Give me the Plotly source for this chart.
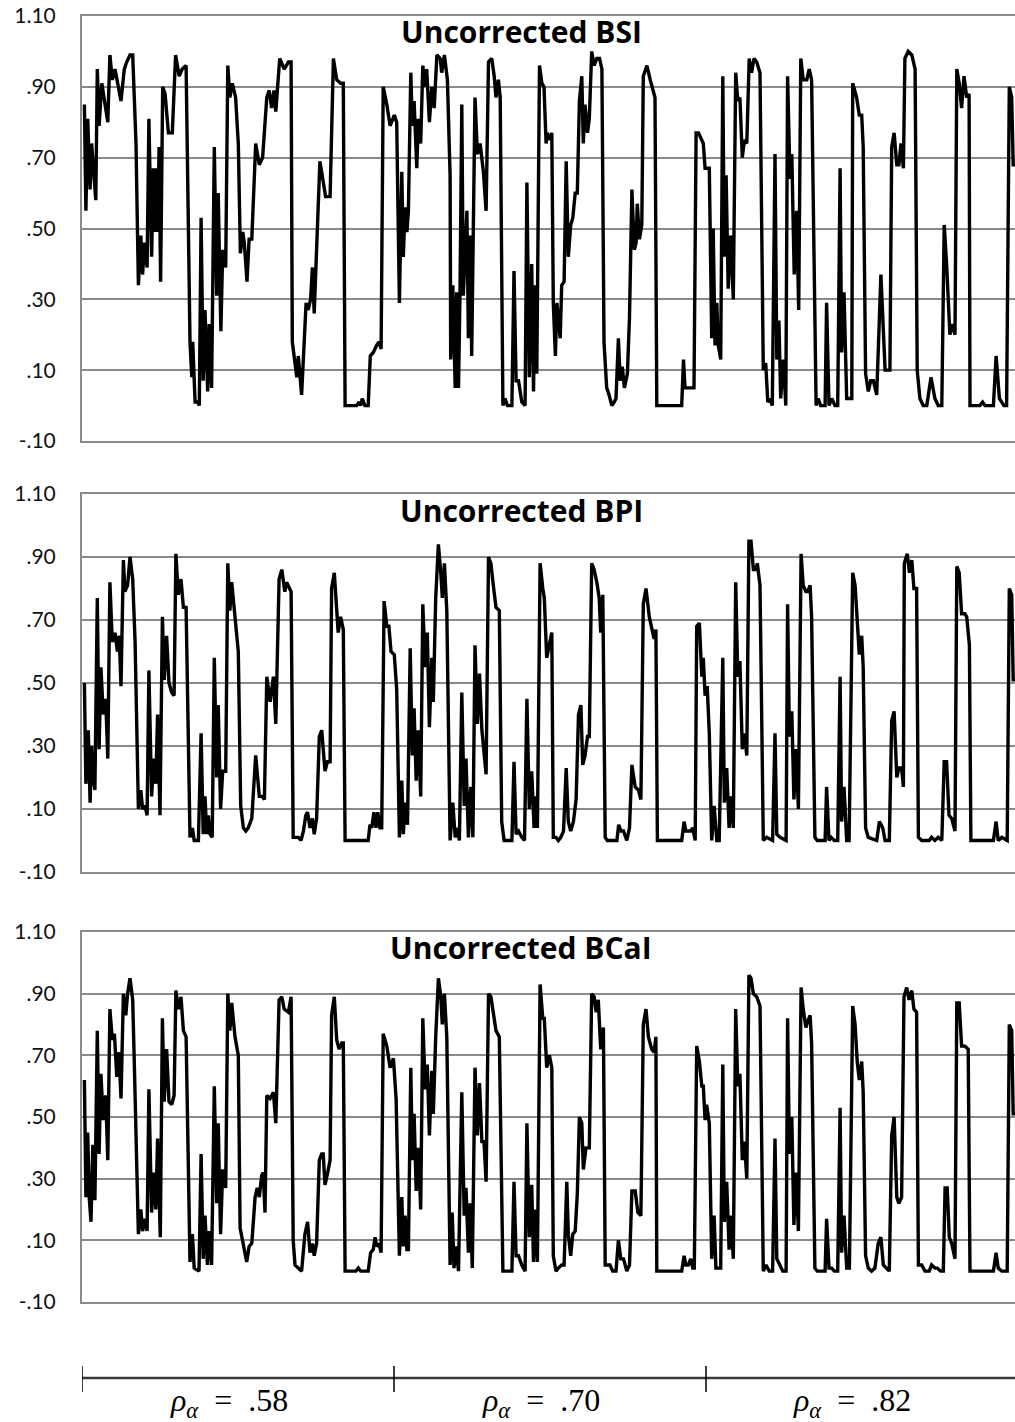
import plotly.graph_objects as go

# ---- data: (condition index, coverage) ----
bsi_points = [
 (0.8,.85),(1.3,.55),(1.9,.81),(2.7,.61),(3.2,.74),(4.6,.58),(5.1,.95),(5.7,.79),(6.6,.91),(7.4,.87),(8.6,.80),(9.3,.99),(10.1,.92),(11,.95),(12.1,.90),(13,.86),(14.1,.95),(14.9,.97),(16,.99),(16.9,.99),
 (18,.74),(18.8,.34),(19.6,.48),(20.2,.37),(20.8,.46),(21.7,.39),(22.3,.81),(23.2,.42),(23.8,.67),(24.3,.49),(24.7,.67),(25.2,.49),(25.7,.73),(26.2,.35),(26.9,.90),(27.7,.88),(28.8,.77),(30.1,.77),(31.2,.99),(32.4,.93),(33.4,.95),(34.7,.96),
 (36,.18),(36.6,.08),(36.9,.18),(37.7,.01),(38.6,.01),(39.1,.00),(39.7,.53),(40.4,.07),(41,.27),(41.9,.04),(42.4,.23),(43.2,.05),(44.1,.73),(44.9,.31),(45.4,.60),(46.3,.21),(46.9,.44),(47.9,.39),(48.6,.96),(49.3,.87),(50.1,.91),(51.2,.87),(52.1,.74),
 (52.8,.43),(53.6,.49),(54.1,.46),(55,.35),(55.7,.47),(56.6,.47),(57.9,.74),(59.1,.68),(60.2,.70),(61.6,.87),(62.4,.89),(63.2,.84),(64,.89),(64.6,.83),(65.9,.98),(67.4,.95),(68.8,.97),(69.7,.97),
 (70.1,.18),(71.6,.08),(72.1,.14),(73.2,.03),(74.7,.29),(75.4,.27),(76.2,.30),(76.8,.39),(77.4,.26),(79.3,.69),(81.2,.59),(82.7,.59),(83.8,.98),(84.9,.92),(86.2,.91),(87.1,.91),
 (87.7,.00),(91.6,.00),(92.4,.01),(92.9,.00),(93.4,.02),(94.3,.00),(95.4,.00),(96.1,.14),(97.1,.15),(98.2,.17),(99,.18),(99.7,.16),(100.4,.90),(101.6,.85),(102.7,.79),(104.1,.82),
 (104.9,.80),(105.8,.29),(106.6,.66),(107.1,.42),(107.7,.56),(108.3,.49),(108.8,.55),(109.6,.94),(110.1,.79),(110.7,.86),(111.6,.67),(112.1,.81),(112.9,.74),(113.6,.96),(114.4,.90),(114.9,.95),(115.8,.80),(116.6,.90),(117.4,.84),(118.3,.99),(119.4,.98),(119.9,.94),(120.8,.99),(121.8,.92),
 (122.7,.65),(122.9,.13),(123.6,.34),(124.4,.05),(124.9,.32),(125.5,.05),(126,.32),(126.6,.85),(127.1,.31),(128.3,.55),(128.8,.19),(129.4,.48),(129.9,.14),(131,.87),(131.8,.71),(132.7,.74),(133.8,.66),(134.7,.55),(135.5,.97),(136.6,.98),(137.4,.93),(138,.87),(138.8,.92),(139.4,.87),
 (140.3,.00),(141,.02),(141.8,.00),(143.3,.00),(144,.38),(144.7,.07),(145.5,.07),(146.6,.01),(147.7,.00),(148.3,.63),(149.1,.08),(149.9,.40),(150.5,.04),(151,.34),(151.6,.09),(152.5,.96),(153.3,.91),(154,.90),(154.7,.74),(155.1,.77),(156,.75),(156.6,.77),
 (157.1,.29),(157.8,.14),(158.3,.29),(159.4,.19),(159.9,.34),(160.7,.35),(161.4,.69),(162.1,.42),(162.9,.51),(163.6,.53),(164.4,.60),(165.1,.60),(165.8,.86),(166.6,.93),(167.1,.74),(167.7,.85),(168.5,.77),(169.1,.81),(169.9,1.00),(170.7,.96),(171.6,.98),(172.5,.98),(173.3,.95),
 (174,.18),(174.9,.05),(175.7,.03),(176.6,.00),(177.4,.01),(178,.02),(178.8,.19),(179.4,.07),(180.1,.11),(180.8,.05),(181.8,.09),(182.5,.25),(183.3,.61),(184.1,.44),(184.7,.46),(185.1,.57),(185.8,.47),(186.6,.51),(187.1,.93),(188.3,.96),(189.4,.92),(191,.87),
 (191.6,.00),(199.9,.00),(200.5,.13),(201,.05),(204,.05),(204.7,.77),(205.5,.77),(207.1,.74),(207.7,.67),(209.1,.67),
 (209.9,.19),(210.4,.50),(211,.17),(211.6,.29),(212.1,.17),(212.9,.13),(213.6,.93),(214.1,.42),(214.7,.65),(215.4,.33),(216.2,.48),(217.1,.30),(217.9,.94),(218.6,.86),(219.3,.87),(220.1,.70),(220.8,.75),(221.6,.74),(222.4,.98),(223.2,.94),(224,.98),(224.9,.97),(226,.94),
 (227.1,.10),(227.9,.12),(228.6,.01),(229.3,.02),(230.1,.00),(231,.71),(231.6,.13),(232.3,.24),(232.9,.02),(233.8,.13),(234.6,.00),(235.2,.93),(236,.64),(236.6,.71),(237.4,.37),(238.2,.55),(238.9,.27),(239.6,.98),(240.4,.92),(241.6,.92),(242.4,.95),(243.2,.92),
 (244.7,.00),(245.4,.02),(246.2,.00),(247.7,.00),(248.2,.29),(249,.00),(249.9,.02),(251,.00),(251.9,.00),(252.7,.67),(253.2,.15),(254,.32),(254.9,.02),(255.7,.02),(256.6,.02),(256.9,.91),(258.2,.87),(259.1,.82),(259.9,.82),(260.4,.73),
 (261.2,.09),(262.1,.04),(262.9,.07),(263.8,.07),(264.9,.03),(266.3,.37),(267.7,.10),(269.3,.10),(269.9,.73),(270.7,.77),(271.6,.68),(272.3,.68),(273,.74),(273.8,.67),(274.3,.98),(275.4,1.00),(276.6,.99),(277.7,.95),
 (278.4,.10),(279.3,.02),(280.4,.00),(281.6,.00),(283,.08),(284.3,.02),(285.4,.00),(286.6,.00),(287.4,.51),(288.2,.40),(289.3,.20),(290.1,.23),(291,.20),(291.6,.95),(292.4,.91),(293.2,.84),(294,.93),(294.9,.87),(295.7,.88),
 (296,.00),(299.3,.00),(300.2,.01),(301,.00),(303.8,.00),(304.7,.14),(305.8,.02),(307.3,.00),(308.2,.00),(309.1,.90),(309.9,.87),(310.4,.68),(311,.68),
]

bpi_points = [
 (0.8,.50),(1.3,.18),(2.1,.35),(2.7,.12),(3.2,.30),(3.8,.19),(4.3,.16),(5.1,.77),(5.7,.29),(6.3,.55),(7.1,.40),(7.9,.45),(8.6,.26),(9.3,.82),(10.1,.63),(11,.66),(11.8,.60),(12.4,.65),(13,.49),(13.8,.89),(14.3,.79),(15.2,.81),(16,.90),(16.9,.83),(17.7,.63),
 (18.8,.10),(19.6,.16),(20.2,.10),(21,.11),(21.7,.08),(22.3,.54),(23.2,.14),(23.9,.26),(24.6,.18),(25.2,.40),(26,.08),(26.8,.71),(27.4,.51),(28.2,.65),(29,.50),(29.9,.47),(30.7,.46),(31.3,.91),(32.1,.78),(33,.83),(33.8,.74),(34.7,.74),
 (36,.01),(36.8,.04),(37.4,.00),(38.8,.00),(39.7,.34),(40.4,.02),(41,.14),(41.6,.02),(42.1,.08),(42.7,.02),(43.4,.01),(44.1,.58),(44.9,.20),(45.4,.43),(46.2,.10),(46.9,.22),(47.9,.22),(48.6,.88),(49.3,.73),(49.9,.82),(51,.71),(52.1,.60),
 (52.9,.11),(53.8,.04),(54.6,.03),(55.4,.04),(56.6,.07),(57.9,.27),(59.1,.14),(60.1,.14),(60.8,.13),(61.6,.52),(62.7,.44),(63.8,.52),(64.6,.37),(65.7,.83),(66.6,.86),(67.6,.79),(68.2,.82),(69.7,.79),
 (70.4,.01),(71.2,.01),(72.1,.01),(73,.00),(73.8,.03),(74.6,.08),(75.2,.09),(76,.04),(76.8,.07),(77.4,.02),(78.2,.07),(79.1,.33),(79.9,.35),(81,.22),(81.8,.25),(82.7,.25),(83.2,.80),(84.1,.85),(84.9,.72),(85.4,.66),(86.2,.71),(87.1,.67),
 (87.7,.00),(95.4,.00),(96,.05),(96.6,.04),(97.3,.09),(98,.04),(98.6,.09),(99.3,.04),(99.9,.04),(100.7,.76),(101.6,.68),(102.3,.68),(103,.60),(104.1,.59),
 (104.9,.48),(105.8,.01),(106.6,.19),(107.1,.02),(107.7,.12),(108.5,.05),(109.4,.61),(110.1,.27),(110.7,.42),(111.4,.19),(112.1,.35),(112.9,.14),(113.6,.75),(114.4,.55),(115.1,.66),(115.8,.36),(116.6,.58),(117.1,.44),(117.9,.77),(118.8,.94),(119.6,.85),(120.1,.77),(120.8,.88),(121.6,.73),
 (122.7,.00),(123.6,.12),(124.4,.01),(125.1,.04),(125.8,.00),(126.6,.47),(127.4,.11),(128,.26),(128.8,.01),(129.6,.17),(130.3,.01),(131,.62),(131.8,.37),(132.5,.53),(133.3,.35),(134,.28),(134.7,.21),(135.5,.90),(136.3,.88),(137.1,.81),(138,.74),(139.1,.73),
 (139.9,.06),(140.7,.00),(143.3,.00),(144,.25),(144.7,.02),(145.5,.03),(146.6,.01),(147.5,.00),(148.3,.45),(149.1,.10),(149.9,.22),(150.7,.04),(151.3,.14),(151.8,.04),(152.7,.88),(153.6,.80),(154.1,.77),(154.9,.58),(155.7,.62),(156.6,.66),
 (157.1,.01),(158,.01),(158.8,.00),(159.6,.01),(160.5,.03),(161.4,.23),(162.1,.06),(162.9,.03),(163.8,.06),(164.7,.13),(165.5,.40),(166.3,.43),(166.9,.24),(167.7,.27),(168.5,.33),(169.1,.33),(169.9,.88),(170.7,.86),(171.6,.82),(172.4,.77),(172.9,.66),(173.6,.78),
 (174.4,.01),(175.1,.00),(178.3,.00),(178.9,.05),(179.7,.03),(180.5,.03),(181.6,.00),(182.5,.04),(183.3,.24),(184.4,.17),(185.5,.16),(186.3,.13),(187.1,.75),(188,.80),(189.1,.71),(189.9,.68),(190.7,.64),(191.3,.67),
 (191.8,.00),(199.9,.00),(200.7,.06),(201.3,.03),(202.1,.03),(202.9,.03),(203.6,.04),(204.4,.00),(204.9,.68),(205.8,.69),(206.6,.52),(207.1,.58),(207.7,.46),(208.4,.49),(209.1,.34),
 (209.9,.00),(210.7,.11),(211.6,.00),(212.4,.00),(213.6,.58),(214.1,.12),(214.9,.23),(215.7,.04),(216.3,.14),(217.1,.04),(217.9,.82),(218.6,.52),(219.3,.57),(220.1,.29),(220.8,.34),(221.6,.27),(222.3,.95),(223,.95),(223.8,.86),(224.6,.86),(225.1,.88),(226,.81),
 (227.1,.00),(228.2,.01),(230.2,.00),(231,.34),(231.6,.02),(232.7,.01),(234.7,.00),(235.2,.75),(235.8,.33),(236.6,.41),(237.3,.13),(238,.29),(238.8,.10),(239.7,.91),(240.4,.81),(241.3,.79),(241.9,.79),(242.7,.81),(243.2,.71),
 (244.3,.01),(245.1,.00),(247.7,.00),(248.2,.17),(249,.00),(249.7,.01),(250.8,.00),(251.9,.00),(252.7,.52),(253.2,.06),(254,.17),(254.9,.00),(255.7,.00),(256.9,.85),(257.7,.81),(258.4,.69),(259.1,.59),(259.9,.65),(260.4,.55),
 (261.2,.04),(262.1,.01),(264.9,.00),(265.8,.06),(266.9,.04),(267.7,.00),(269.1,.00),(269.9,.38),(270.7,.41),(271.6,.20),(272.3,.23),(273.2,.23),(273.8,.17),(274.1,.88),(275.1,.91),(275.8,.85),(276.6,.89),(277.3,.80),(278.2,.80),
 (278.8,.01),(279.9,.00),(282.4,.00),(283.2,.01),(284.3,.00),(285.4,.01),(286.6,.00),(287.4,.25),(288.2,.25),(289,.08),(289.9,.07),(291,.03),(291.6,.87),(292.4,.85),(293.2,.72),(294.3,.72),(294.9,.71),(295.8,.62),
 (296.3,.00),(303.8,.00),(304.7,.06),(305.4,.00),(306.6,.01),(308.4,.00),(309.1,.80),(309.9,.78),(310.4,.51),(311,.51),
]

bcai_points = [
 (0.8,.62),(1.3,.24),(1.9,.45),(2.4,.24),(3,.16),(3.6,.41),(4.3,.23),(5.1,.78),(5.7,.38),(6.3,.64),(7.1,.49),(7.9,.57),(8.6,.36),(9.3,.85),(10.1,.75),(10.8,.77),(11.6,.63),(12.3,.71),(13,.56),(13.8,.90),(14.6,.83),(15.2,.90),(16,.95),(16.9,.88),(17.4,.69),
 (18.8,.12),(19.6,.20),(20.2,.13),(21,.17),(21.7,.13),(22.3,.59),(23.2,.19),(23.9,.32),(24.6,.20),(25.2,.43),(26.1,.11),(26.8,.82),(27.4,.55),(28.2,.72),(29,.55),(29.9,.54),(30.7,.57),(31.3,.91),(32.1,.85),(33,.89),(33.8,.78),(34.7,.76),
 (36,.03),(36.8,.12),(37.4,.01),(39,.00),(39.7,.38),(40.4,.04),(41,.18),(41.8,.02),(42.4,.13),(43.2,.02),(44.1,.60),(44.9,.22),(45.4,.48),(46.2,.12),(46.9,.33),(47.9,.27),(48.6,.90),(49.3,.78),(49.9,.87),(51,.76),(52.1,.70),
 (52.7,.14),(53.8,.08),(54.9,.03),(55.7,.08),(56.6,.09),(57.7,.24),(58.4,.27),(59.1,.24),(59.9,.31),(60.4,.32),(61,.19),(61.6,.57),(62.7,.56),(63.8,.58),(64.6,.48),(65.7,.88),(66.6,.89),(67.4,.85),(68.8,.84),(69.7,.89),
 (70.4,.10),(71,.02),(72.1,.01),(73.2,.00),(74.3,.12),(75.2,.16),(76,.06),(76.8,.09),(77.4,.05),(78.2,.09),(79.1,.36),(79.9,.38),(80.4,.38),(81,.28),(81.9,.32),(82.7,.36),(83.2,.83),(84.1,.89),(84.9,.75),(85.7,.72),(86.6,.74),(87.1,.74),
 (87.7,.00),(91.3,.00),(92.1,.01),(92.9,.00),(95.4,.00),(96.2,.06),(97.1,.07),(97.7,.11),(98.2,.08),(99,.09),(99.7,.06),(100.4,.77),(101.6,.73),(102.7,.66),(103.8,.69),
 (104.7,.56),(105.8,.05),(106.6,.24),(107.1,.08),(107.7,.18),(108.3,.07),(108.8,.07),(109.6,.66),(110.1,.36),(110.7,.51),(111.4,.26),(112.1,.40),(112.9,.20),(113.6,.82),(114.4,.59),(115.1,.67),(115.8,.44),(116.6,.65),(117.1,.51),(117.9,.76),(118.8,.95),(119.6,.89),(120.1,.80),(120.8,.90),(121.6,.76),
 (122.7,.02),(123.4,.19),(124,.01),(124.7,.08),(125.5,.00),(126.6,.58),(127.4,.18),(128,.27),(128.8,.06),(129.4,.22),(130.1,.01),(131,.66),(131.8,.44),(132.5,.61),(133.3,.42),(134,.42),(134.7,.29),(135.5,.90),(136.3,.89),(137.1,.83),(138,.78),(139.1,.76),
 (140.3,.00),(143.3,.00),(144,.29),(144.7,.05),(145.5,.05),(146.6,.02),(147.7,.00),(148.3,.48),(149.1,.11),(149.9,.28),(150.5,.03),(151,.20),(151.8,.03),(152.7,.93),(153.6,.82),(154.1,.82),(154.9,.66),(155.8,.70),(156.6,.66),
 (157.1,.05),(158,.00),(158.8,.01),(159.9,.02),(160.7,.02),(161.6,.29),(162.1,.12),(162.9,.05),(163.6,.12),(164.4,.13),(165.1,.25),(165.8,.50),(166.6,.48),(167.1,.33),(168,.40),(169.1,.40),(169.9,.90),(170.7,.89),(171.4,.84),(172.1,.88),(172.9,.72),(173.8,.79),
 (174.4,.02),(175.1,.02),(176,.02),(176.9,.00),(178,.00),(178.8,.10),(179.6,.04),(180.5,.04),(181.6,.00),(182.5,.02),(183.3,.26),(184.4,.26),(185.3,.19),(186.3,.18),(187.1,.80),(188,.85),(188.8,.76),(189.9,.72),(190.7,.71),(191.3,.76),
 (191.6,.00),(199.9,.00),(200.7,.05),(201.3,.02),(202.1,.02),(202.9,.04),(203.6,.01),(204.1,.01),(204.9,.73),(205.8,.68),(206.6,.60),(207.1,.60),(207.7,.49),(208.2,.54),(209.1,.48),
 (209.9,.04),(210.7,.18),(211.3,.01),(212.9,.01),(213.6,.67),(214.1,.16),(214.9,.29),(215.7,.07),(216.3,.18),(217.1,.04),(217.9,.85),(218.6,.60),(219.3,.64),(220.1,.36),(220.8,.42),(221.6,.30),(222.3,.96),(223,.95),(223.8,.90),(224.9,.89),(226,.86),
 (227.1,.00),(228,.02),(229.1,.00),(230.2,.00),(231,.43),(231.6,.04),(232.7,.02),(233.6,.00),(234.7,.00),(235.2,.82),(235.8,.38),(236.6,.50),(237.3,.15),(238,.32),(238.8,.13),(239.7,.92),(240.4,.85),(241.3,.79),(241.9,.81),(242.7,.83),(243.2,.74),
 (244.3,.01),(245.1,.00),(247.7,.00),(248.2,.17),(249,.01),(249.9,.01),(250.8,.00),(251.9,.00),(252.7,.53),(253.2,.06),(254,.18),(254.9,.01),(255.8,.01),(256.9,.86),(257.7,.80),(258.4,.68),(259.1,.62),(259.9,.68),(260.4,.58),
 (261.2,.05),(262.1,.01),(263.2,.00),(264.3,.01),(265.4,.09),(266.3,.11),(267.1,.02),(268,.01),(269.1,.00),(269.9,.44),(270.7,.50),(271.6,.24),(272.3,.22),(273.2,.24),(274,.89),(274.9,.92),(275.7,.88),(276.6,.91),(277.3,.85),(278.2,.84),
 (278.8,.02),(279.9,.02),(281,.00),(282.4,.00),(283.2,.02),(284.3,.01),(285.1,.01),(286.2,.00),(287.1,.00),(287.7,.27),(288.4,.27),(289.1,.11),(289.9,.09),(291,.04),(291.6,.87),(292.4,.87),(293.2,.73),(294.3,.73),(295.4,.72),
 (296,.00),(303.8,.00),(304.7,.06),(305.4,.01),(306.6,.00),(308.4,.00),(309.1,.80),(309.9,.78),(310.4,.51),(311,.51),
]

panel_titles = ["Uncorrected BSI", "Uncorrected BPI", "Uncorrected BCaI"]
tick_vals = [-0.1, 0.1, 0.3, 0.5, 0.7, 0.9, 1.1]
tick_text = ["-.10", ".10", ".30", ".50", ".70", ".90", "1.10"]
group_edges = [0, 104, 208, 311]
group_labels = [".58", ".70", ".82"]

# ---- layout geometry ----
W, H = 1015, 1422
panel_px = [(16, 441), (494, 872), (932, 1302)]  # top, bottom pixel rows of each plot area
GRID = "#8a8a8a"

fig = go.Figure()
series = [bsi_points, bpi_points, bcai_points]
for i, pts in enumerate(series):
    xs = [p[0] for p in pts]
    ys = [p[1] for p in pts]
    sfx = "" if i == 0 else str(i + 1)
    fig.add_trace(go.Scatter(x=xs, y=ys, mode="lines",
                             line=dict(color="#000000", width=3.4),
                             xaxis="x" + sfx, yaxis="y" + sfx,
                             showlegend=False, hoverinfo="skip"))
    top, bot = panel_px[i]
    fig.layout["xaxis" + sfx] = dict(
        domain=[0, 1], range=[0, 311], anchor="y" + sfx, automargin=False,
        showgrid=False, zeroline=False, showticklabels=False, ticks="",
        showline=True, mirror=True, linecolor=GRID, linewidth=2)
    fig.layout["yaxis" + sfx] = dict(
        domain=[1 - bot / H, 1 - top / H], range=[-0.1, 1.1], anchor="x" + sfx,
        automargin=False,
        tickmode="array", tickvals=tick_vals, ticktext=tick_text,
        showgrid=True, gridcolor=GRID, gridwidth=2, zeroline=False,
        showline=True, linecolor=GRID, linewidth=2, ticks="",
        ticklabelstandoff=20,
        tickfont=dict(family="Lato, Carlito, sans-serif", size=21, color="#111111"))
    fig.add_annotation(text="<b>%s</b>" % panel_titles[i],
                       xref="x" + sfx + " domain", yref="y" + sfx + " domain",
                       x=(521 - 82) / 933, y=1 - (16 / (bot - top)),
                       xanchor="center", yanchor="middle", showarrow=False,
                       font=dict(family="Open Sans, sans-serif", size=30, color="#000000"))

# ---- bottom bracket axis for the three reliability groups ----
line_y = 1 - 1378 / H
fig.add_shape(type="line", xref="x3", yref="paper",
              x0=group_edges[0], x1=group_edges[-1], y0=line_y, y1=line_y,
              line=dict(color="#3a3a3a", width=2.5))
for e in group_edges[:-1]:
    fig.add_shape(type="line", xref="x3", yref="paper",
                  x0=e, x1=e, y0=1 - 1392 / H, y1=1 - 1366 / H,
                  line=dict(color="#000000", width=1.5))
nb = "\u00a0"
for k, lab in enumerate(group_labels):
    mid = (group_edges[k] + group_edges[k + 1]) / 2 - 3
    fig.add_annotation(text="<i>ρ</i><sub><i>α</i></sub>%s=%s%s" % (nb * 2, nb * 2, lab),
                       xref="x3", yref="paper", x=mid, y=1 - 1402 / H,
                       xanchor="center", yanchor="middle", showarrow=False,
                       font=dict(family="Liberation Serif, DejaVu Serif, serif", size=32, color="#000000"))

fig.update_layout(width=W, height=H, margin=dict(l=82, r=0, t=0, b=0, pad=0, autoexpand=False),
                  paper_bgcolor="white", plot_bgcolor="white", showlegend=False)

fig.write_html("out.html")
